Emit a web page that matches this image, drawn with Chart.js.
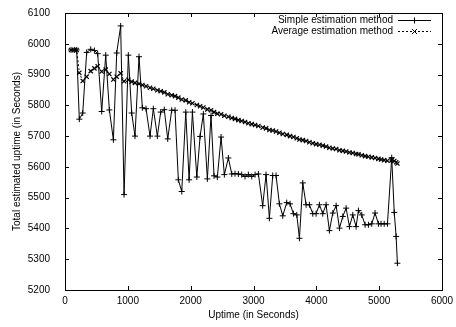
<!DOCTYPE html>
<html>
<head>
<meta charset="utf-8">
<script src="https://cdn.jsdelivr.net/npm/chart.js@4.4.1/dist/chart.umd.min.js"></script>
<style>
  html, body { margin: 0; padding: 0; background: #fff; }
</style>
</head>
<body>
<canvas id="chart" width="456" height="327"></canvas>
<script>
// uptime samples (seconds) shared by both series
const uptime = [96, 148, 186, 228, 282, 345, 409, 468, 520, 584, 648, 706, 770, 823, 886, 940,
  1008, 1061, 1114, 1178, 1231, 1290, 1353, 1406, 1470, 1523, 1580, 1635, 1698, 1751, 1804, 1858,
  1922, 1975, 2028, 2098, 2150, 2202, 2266, 2324, 2372, 2425, 2484, 2536, 2600, 2654, 2706, 2759,
  2812, 2865, 2918, 2972, 3025, 3078, 3146, 3200, 3253, 3306, 3359, 3412, 3466, 3529, 3582, 3635,
  3689, 3731, 3784, 3837, 3890, 3943, 3996, 4049, 4102, 4155, 4208, 4262, 4315, 4368, 4421, 4474,
  4527, 4580, 4633, 4670, 4723, 4776, 4829, 4882, 4935, 4988, 5030, 5080, 5132, 5200, 5240, 5270, 5290];

const simpleEst = [5980, 5980, 5980, 5755, 5775, 5972, 5982, 5978, 5968, 5780, 5963, 5785, 5688, 5970, 6058, 5510,
  5963, 5775, 5700, 5958, 5792, 5789, 5700, 5789, 5700, 5778, 5786, 5691, 5784, 5784, 5558, 5520,
  5778, 5558, 5778, 5567, 5699, 5772, 5561, 5767, 5571, 5567, 5697, 5575, 5629, 5577, 5578, 5577,
  5575, 5569, 5575, 5569, 5575, 5577, 5474, 5575, 5433, 5572, 5572, 5480, 5441, 5484, 5480, 5448,
  5444, 5368, 5548, 5477, 5477, 5448, 5448, 5477, 5448, 5477, 5393, 5450, 5474, 5401, 5439, 5466,
  5406, 5444, 5406, 5458, 5444, 5412, 5412, 5415, 5450, 5415, 5415, 5415, 5415, 5630, 5452, 5374, 5287];

const averageEst = [5980, 5980, 5980, 5906, 5879, 5893, 5911, 5920, 5927, 5910, 5916, 5902, 5884, 5893, 5904, 5878,
  5883, 5877, 5873, 5870, 5866, 5862, 5857, 5854, 5849, 5846, 5842, 5836, 5833, 5830, 5825, 5819,
  5816, 5810, 5807, 5801, 5797, 5793, 5787, 5784, 5778, 5773, 5771, 5766, 5763, 5759, 5756, 5752,
  5749, 5746, 5742, 5739, 5736, 5733, 5728, 5725, 5720, 5718, 5715, 5711, 5707, 5704, 5700, 5697,
  5693, 5689, 5687, 5684, 5680, 5677, 5674, 5672, 5669, 5666, 5662, 5660, 5658, 5654, 5652, 5650,
  5647, 5645, 5642, 5641, 5638, 5635, 5633, 5631, 5629, 5626, 5624, 5622, 5620, 5622, 5619, 5615, 5611];

const xTicks = [0, 1000, 2000, 3000, 4000, 5000, 6000];
const yTicks = [5200, 5300, 5400, 5500, 5600, 5700, 5800, 5900, 6000, 6100];

const seriesNames = ["Simple estimation method", "Average estimation method"];
const FONT = '"Liberation Sans", Arial, Helvetica, sans-serif';

// gnuplot-like frame, inward ticks, axis titles and key
const framePlugin = {
  id: "frame",
  afterDraw(chart) {
    const { ctx, chartArea: a, scales } = chart;
    ctx.save();
    ctx.strokeStyle = "#000";
    ctx.lineWidth = 1;
    ctx.strokeRect(a.left + 0.5, a.top + 0.5, a.right - a.left, a.bottom - a.top);

    const tl = 4;
    ctx.beginPath();
    xTicks.forEach(v => {
      const px = Math.round(scales.x.getPixelForValue(v)) + 0.5;
      ctx.moveTo(px, a.bottom); ctx.lineTo(px, a.bottom - tl);
      ctx.moveTo(px, a.top); ctx.lineTo(px, a.top + tl);
    });
    yTicks.forEach(v => {
      const py = Math.round(scales.y.getPixelForValue(v)) + 0.5;
      ctx.moveTo(a.left, py); ctx.lineTo(a.left + tl, py);
      ctx.moveTo(a.right, py); ctx.lineTo(a.right - tl, py);
    });
    ctx.stroke();

    ctx.fillStyle = "#000";
    ctx.font = "10px " + FONT;
    ctx.textAlign = "center";
    ctx.textBaseline = "middle";
    ctx.fillText("Uptime (in Seconds)", (a.left + a.right) / 2, 315);
    ctx.save();
    ctx.translate(17, (a.top + a.bottom) / 2);
    ctx.rotate(-Math.PI / 2);
    ctx.fillText("Total estimated uptime (in Seconds)", 0, 0);
    ctx.restore();

    // key
    ctx.textAlign = "right";
    const rows = [20.5, 31.5];
    rows.forEach((y, i) => {
      ctx.fillText(seriesNames[i], 393, y);
      ctx.beginPath();
      ctx.setLineDash(i === 0 ? [] : [2, 2]);
      ctx.moveTo(398, y); ctx.lineTo(431, y);
      ctx.stroke();
      ctx.setLineDash([]);
      ctx.beginPath();
      const cx = 414.5;
      if (i === 0) {
        ctx.moveTo(cx - 3, y); ctx.lineTo(cx + 3, y);
        ctx.moveTo(cx, y - 3); ctx.lineTo(cx, y + 3);
      } else {
        ctx.moveTo(cx - 2.5, y - 2.5); ctx.lineTo(cx + 2.5, y + 2.5);
        ctx.moveTo(cx - 2.5, y + 2.5); ctx.lineTo(cx + 2.5, y - 2.5);
      }
      ctx.stroke();
    });
    ctx.restore();
  }
};

const ctx = document.getElementById("chart").getContext("2d");
new Chart(ctx, {
  type: "line",
  data: {
    datasets: [
      {
        label: seriesNames[0],
        data: uptime.map((x, i) => ({ x, y: simpleEst[i] })),
        borderColor: "#000",
        borderWidth: 1,
        pointStyle: "cross",
        pointRadius: 3,
        pointBorderColor: "#000",
        pointBorderWidth: 1,
        tension: 0,
        fill: false,
      },
      {
        label: seriesNames[1],
        data: uptime.map((x, i) => ({ x, y: averageEst[i] })),
        borderColor: "#000",
        borderWidth: 1,
        borderDash: [2, 2],
        pointStyle: "crossRot",
        pointRadius: 3,
        pointBorderColor: "#000",
        pointBorderWidth: 1.2,
        tension: 0,
        fill: false,
      }
    ]
  },
  options: {
    responsive: false,
    animation: false,
    devicePixelRatio: 1,
    layout: { padding: { top: 13, right: 14, left: 0, bottom: 0 } },
    scales: {
      x: {
        type: "linear",
        min: 0,
        max: 6000,
        afterFit: s => { s.height = 37; },
        afterBuildTicks: s => { s.ticks = xTicks.map(v => ({ value: v })); },
        ticks: { color: "#000", font: { size: 10, family: FONT }, padding: -3, maxRotation: 0,
                 callback: v => String(v) },
        grid: { display: false },
        border: { display: false },
      },
      y: {
        min: 5200,
        max: 6100,
        afterFit: s => { s.width = 65; },
        afterBuildTicks: s => { s.ticks = yTicks.map(v => ({ value: v })); },
        ticks: { color: "#000", font: { size: 10, family: FONT }, padding: 7,
                 callback: v => String(v) },
        grid: { display: false },
        border: { display: false },
      }
    },
    plugins: {
      legend: { display: false },
      tooltip: { enabled: false },
    }
  },
  plugins: [framePlugin]
});
</script>
</body>
</html>
